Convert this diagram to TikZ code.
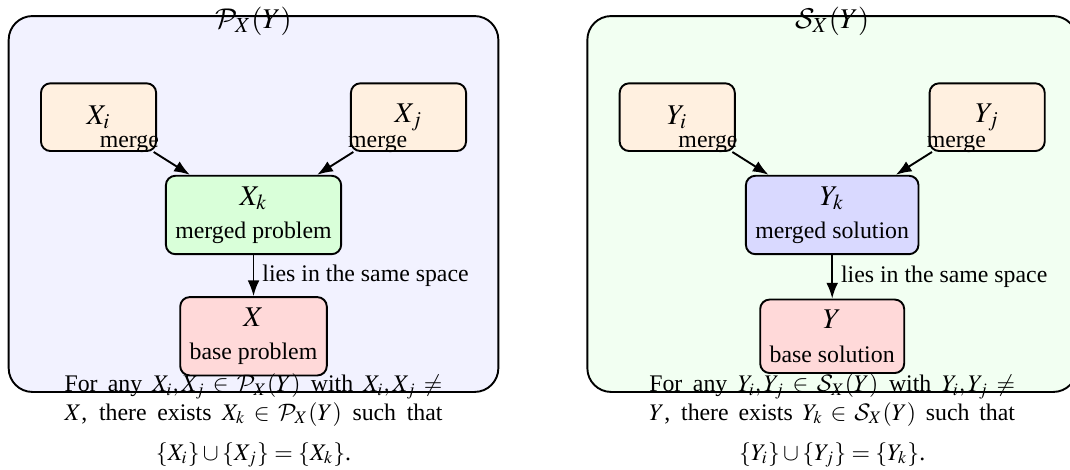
\documentclass[tikz,border=0pt]{standalone}
\usepackage{mathptmx}
\DeclareMathAlphabet{\mathcal}{OMS}{cmsy}{m}{n}
\usepackage[no-math]{fontspec}
\setmainfont{Liberation Serif}
\usetikzlibrary{arrows.meta,positioning}

\begin{document}
\begin{tikzpicture}[
    space/.style={draw, thick, rounded corners=10pt, minimum width=7.23cm, minimum height=5.55cm},
    item/.style={draw, thick, rounded corners=4pt, align=center, font=\large, minimum width=1.7cm, minimum height=1cm, inner xsep=4pt, inner ysep=4.5pt},
    link/.style={-{Latex}, thick},
    heading/.style={font=\large, anchor=base},
    claim/.style={text width=#1, align=justify, inner sep=0pt, anchor=north},
  ]
    \useasboundingbox (0,0) rectangle (15.798,6.939);
    % problem space
    \node[space, fill=blue!5] (pspace) at (3.743,3.927) {};
    \node[heading] (ptitle) at (3.743,6.521) {$\mathcal{P}_X(Y)$};
    \node[item, fill=orange!12] (xi) at (1.455,5.209) {$X_i$};
    \node[item, fill=orange!12] (xj) at (6.031,5.209) {$X_j$};
    \node[item, fill=green!15] (xk) at (3.743,3.765) {$X_k$\\{\normalsize merged problem}};
    \node[item, fill=red!15] (xbase) at (3.743,1.974) {$X$\\{\normalsize base problem}};
    \draw[link] (xi) -- node[pos=0.3, above left, inner sep=2pt] (mxi) {merge} (xk);
    \draw[link] (xj) -- node[pos=0.3, above right, inner sep=2pt] (mxj) {merge} (xk);
    \draw[link] (xk) -- node[right] (samex) {lies in the same space} (xbase);
    \node[claim=5.58cm] (pclaim) at (3.743,1.43) {\parfillskip=0pt For any $X_i, X_j \in \mathcal{P}_X(Y)$ with $X_i, X_j \neq$\linebreak $X$, there exists $X_k \in \mathcal{P}_X(Y)$ such that\par};
    \node[anchor=base] (pform) at (3.743,0.147) {$\{X_i\} \cup \{X_j\} = \{X_k\}$.};

    % solution space
    \node[space, fill=green!5] (sspace) at (12.287,3.927) {};
    \node[heading] (stitle) at (12.287,6.521) {$\mathcal{S}_X(Y)$};
    \node[item, fill=orange!12] (yi) at (9.999,5.209) {$Y_i$};
    \node[item, fill=orange!12] (yj) at (14.575,5.209) {$Y_j$};
    \node[item, fill=blue!15] (yk) at (12.287,3.765) {$Y_k$\\{\normalsize merged solution}};
    \node[item, fill=red!15] (ybase) at (12.287,1.974) {$Y$\\{\normalsize base solution}};
    \draw[link] (yi) -- node[pos=0.3, above left, inner sep=2pt] (myi) {merge} (yk);
    \draw[link] (yj) -- node[pos=0.3, above right, inner sep=2pt] (myj) {merge} (yk);
    \draw[link] (yk) -- node[right] (samey) {lies in the same space} (ybase);
    \node[claim=5.4cm] (sclaim) at (12.287,1.43) {\parfillskip=0pt For any $Y_i, Y_j \in \mathcal{S}_X(Y)$ with $Y_i, Y_j \neq$\linebreak $Y$, there exists $Y_k \in \mathcal{S}_X(Y)$ such that\par};
    \node[anchor=base] (sform) at (12.287,0.147) {$\{Y_i\} \cup \{Y_j\} = \{Y_k\}$.};
\end{tikzpicture}
\end{document}
